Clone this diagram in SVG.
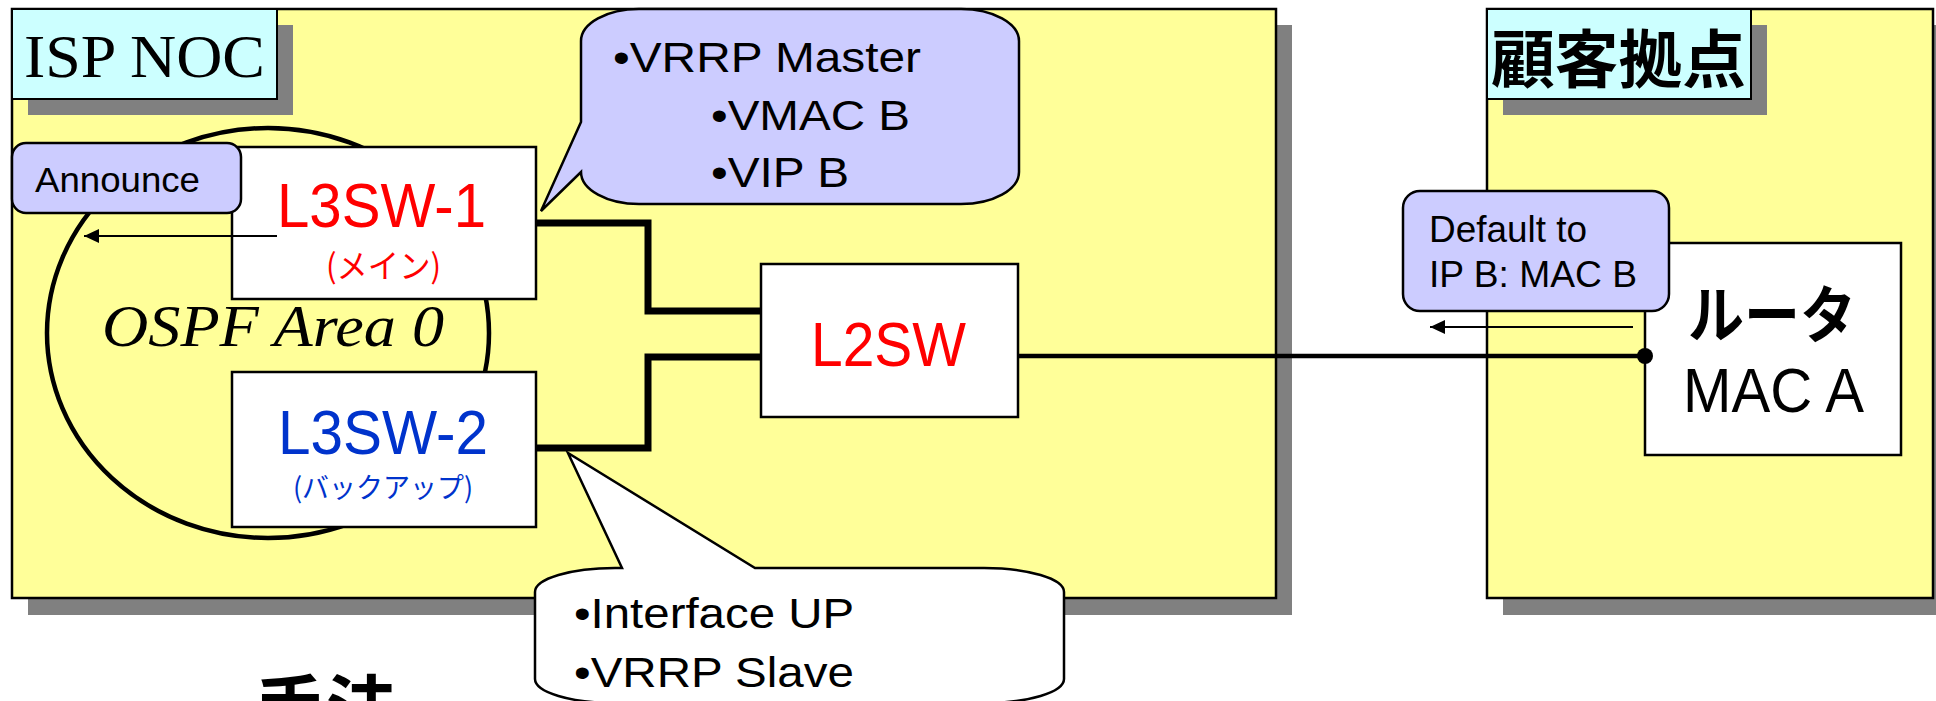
<svg xmlns="http://www.w3.org/2000/svg" width="1936" height="701" viewBox="0 0 1936 701">
<style>
.zone{fill:#FFFF99;stroke:#000;stroke-width:2.5}
.shadow{fill:#808080}
.label{fill:#CCFFFF;stroke:#000;stroke-width:2}
.box{fill:#FFFFFF;stroke:#000;stroke-width:2.5}
.note{fill:#CCCCFF;stroke:#000;stroke-width:2.5}
.sans{font-family:"Liberation Sans",Arial,"Noto Sans CJK JP",sans-serif}
.jp{font-family:"Noto Sans CJK JP","Liberation Sans",sans-serif}
.wire{fill:none;stroke:#000;stroke-width:7;stroke-linejoin:miter}
.thin{fill:none;stroke:#000;stroke-width:2}
</style>
<defs>
<marker id="arr" markerUnits="userSpaceOnUse" markerWidth="16" markerHeight="14" refX="15" refY="7" orient="auto">
<path d="M0,0 L15,7 L0,14 Z" fill="#000"/>
</marker>
</defs>
<rect width="1936" height="701" fill="#FFFFFF"/>

<g id="isp-noc">
<rect class="shadow" x="28" y="25" width="1264" height="590"/>
<rect class="zone" x="12" y="9" width="1264" height="589"/>
<ellipse cx="268" cy="333" rx="221" ry="205" fill="none" stroke="#000" stroke-width="4.5"/>
<rect class="shadow" x="28" y="25" width="265" height="90"/>
<rect class="label" x="12" y="9" width="265" height="90"/>
<text x="24" y="77" font-family="'Liberation Serif',serif" font-size="62" textLength="241" lengthAdjust="spacingAndGlyphs">ISP NOC</text>
<text x="102" y="346" font-family="'Liberation Serif',serif" font-style="italic" font-size="60" textLength="342" lengthAdjust="spacingAndGlyphs">OSPF Area 0</text>
</g>

<g id="customer">
<rect class="shadow" x="1503" y="25" width="446" height="590"/>
<rect class="zone" x="1487" y="9" width="446" height="589"/>
<rect class="shadow" x="1503" y="25" width="264" height="90"/>
<rect class="label" x="1487" y="9" width="264" height="90"/>
<text x="1491" y="82" class="jp" font-weight="bold" font-size="63" textLength="255" lengthAdjust="spacingAndGlyphs">顧客拠点</text>
</g>

<g id="l3sw-1">
<rect class="box" x="232" y="147" width="304" height="152"/>
<text x="277" y="227" class="sans" font-size="63" fill="#FF0000" textLength="209" lengthAdjust="spacingAndGlyphs">L3SW-1</text>
<text x="326" y="278" class="jp" font-size="33" fill="#FF0000" textLength="115" lengthAdjust="spacingAndGlyphs">(メイン)</text>
</g>

<g id="l3sw-2">
<rect class="box" x="232" y="372" width="304" height="155"/>
<text x="278" y="454" class="sans" font-size="63" fill="#0033CC" textLength="210" lengthAdjust="spacingAndGlyphs">L3SW-2</text>
<text x="293" y="498" class="jp" font-size="28" fill="#0033CC" textLength="180" lengthAdjust="spacingAndGlyphs">(バックアップ)</text>
</g>

<g id="l2sw">
<rect class="box" x="761" y="264" width="257" height="153"/>
<text x="811" y="366" class="sans" font-size="63" fill="#FF0000" textLength="155" lengthAdjust="spacingAndGlyphs">L2SW</text>
</g>

<g id="router">
<rect class="box" x="1645" y="243" width="256" height="212"/>
<text x="1688" y="338" class="jp" font-weight="bold" font-size="62" textLength="168" lengthAdjust="spacingAndGlyphs">ルータ</text>
<text x="1683" y="412" class="sans" font-size="63" textLength="181" lengthAdjust="spacingAndGlyphs">MAC A</text>
</g>

<g id="connectors">
<path class="wire" d="M536,223 H648 V311 H761"/>
<path class="wire" d="M536,448 H648 V357 H761"/>
<line x1="1018" y1="356" x2="1645" y2="356" stroke="#000" stroke-width="4.5"/>
<circle cx="1645" cy="356" r="8" fill="#000"/>
</g>

<g id="announce">
<rect class="note" x="12" y="143" width="229" height="70" rx="14" ry="14"/>
<text x="35" y="192" class="sans" font-size="35" textLength="165" lengthAdjust="spacingAndGlyphs">Announce</text>
<line class="thin" x1="277" y1="236" x2="84" y2="236" marker-end="url(#arr)"/>
</g>

<g id="default-note">
<rect class="note" x="1403" y="191" width="266" height="120" rx="17" ry="17"/>
<text x="1429" y="242" class="sans" font-size="36" textLength="158" lengthAdjust="spacingAndGlyphs">Default to</text>
<text x="1429" y="287" class="sans" font-size="36" textLength="208" lengthAdjust="spacingAndGlyphs">IP B: MAC B</text>
<line class="thin" x1="1633" y1="327" x2="1430" y2="327" marker-end="url(#arr)"/>
</g>

<g id="vrrp-master">
<path class="note" d="M639,9 L961,9 A58,32 0 0 1 1019,41 L1019,172 A58,32 0 0 1 961,204 L639,204 A58,32 0 0 1 581,172 L541,211 L581,122 L581,41 A58,32 0 0 1 639,9 Z"/>
<text x="613" y="72" class="sans" font-size="43" textLength="308" lengthAdjust="spacingAndGlyphs">•VRRP Master</text>
<text x="711" y="130" class="sans" font-size="43" textLength="199" lengthAdjust="spacingAndGlyphs">•VMAC B</text>
<text x="711" y="187" class="sans" font-size="43" textLength="138" lengthAdjust="spacingAndGlyphs">•VIP B</text>
</g>

<g id="vrrp-slave">
<path fill="#FFFFFF" stroke="#000" stroke-width="2.5" d="M615,568 L622,568 L568,453 L755,568 L984,568 A80,24 0 0 1 1064,592 L1064,679 A80,24 0 0 1 984,703 L615,703 A80,24 0 0 1 535,679 L535,592 A80,24 0 0 1 615,568 Z"/>
<text x="574" y="628" class="sans" font-size="43" textLength="280" lengthAdjust="spacingAndGlyphs">•Interface UP</text>
<text x="574" y="687" class="sans" font-size="43" textLength="280" lengthAdjust="spacingAndGlyphs">•VRRP Slave</text>
</g>

<g id="title">
<text x="254" y="735" class="jp" font-weight="bold" font-size="72">手法</text>
</g>
</svg>
